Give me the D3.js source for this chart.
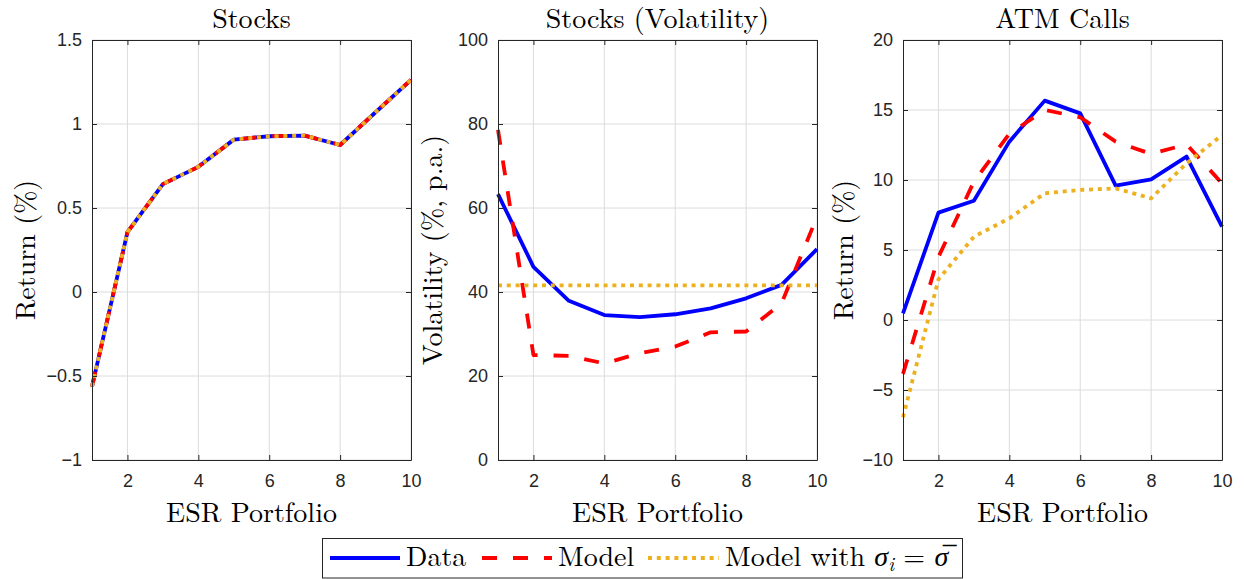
<!DOCTYPE html>
<html><head><meta charset="utf-8">
<script src="https://cdn.jsdelivr.net/npm/d3@7"></script>
<style>body{margin:0;background:#fff}svg{display:block}</style>
</head><body><svg id="c" width="1244" height="579"></svg>
<script>
const portfolios = [1,2,3,4,5,6,7,8,9,10];
const xTicks = [2,4,6,8,10];

const stocksData  = [-0.563,0.356,0.642,0.745,0.907,0.927,0.931,0.875,1.07,1.263];
const stocksModel = [-0.563,0.356,0.642,0.745,0.907,0.927,0.931,0.875,1.07,1.263];
const stocksModelSig = [-0.563,0.356,0.642,0.745,0.907,0.927,0.931,0.875,1.07,1.263];
const stocksTicks = [-1,-0.5,0,0.5,1,1.5];

const volData  = [63.3,46.0,37.9,34.5,34.0,34.7,36.1,38.5,41.7,50.2];
const volModel = [78.6,25.0,24.8,23.0,25.4,27.0,30.4,30.6,37.3,57.9];
const volModelSig = [41.6,41.6,41.6,41.6,41.6,41.6,41.6,41.6,41.6,41.6];
const volTicks = [0,20,40,60,80,100];

const callData  = [0.48,7.67,8.52,12.74,15.67,14.76,9.60,10.05,11.67,6.67];
const callModel = [-3.85,4.5,9.88,13.3,15.0,14.48,12.74,11.86,12.55,9.76];
const callModelSig = [-6.95,2.9,5.95,7.26,9.05,9.29,9.40,8.69,11.19,13.21];
const callTicks = [-10,-5,0,5,10,15,20];

const titles = ["Stocks","Stocks (Volatility)","ATM Calls"];
const yLabels = ["Return (%)","Volatility (%, p.a.)","Return (%)"];
const xLabel = "ESR Portfolio";
const legendLabels = ["Data","Model"];

const panels = [
  {title:titles[0], ylab:yLabels[0], ticks:stocksTicks, series:[stocksData,stocksModel,stocksModelSig], left:92, ylabOff:67},
  {title:titles[1], ylab:yLabels[1], ticks:volTicks, series:[volData,volModel,volModelSig], left:498, ylabOff:66},
  {title:titles[2], ylab:yLabels[2], ticks:callTicks, series:[callData,callModel,callModelSig], left:903, ylabOff:60}
];

const PW = 319, PTOP = 40, PH = 420;
const serif = '"Latin Modern Roman", "Liberation Serif", serif';
const sans = '"Liberation Sans", Arial, sans-serif';
const axisCol = "#262626";
const styles = [
  {color:"#0000ff", dash:null, width:3.8},
  {color:"#ff0000", dash:"15,16", width:3.8},
  {color:"#edb120", dash:"4,4.8", width:3.8}
];

const svg = d3.select("#c");
const serifText = sel => sel.style("font-family", serif).style("font-size","28px").attr("fill","#000");

panels.forEach(p => {
  const g = svg.append("g").attr("transform", `translate(${p.left},${PTOP})`);
  const x = d3.scaleLinear().domain([1,10]).range([0,PW]);
  const y = d3.scaleLinear().domain(d3.extent(p.ticks)).range([PH,0]);

  g.append("g").selectAll("line").data(xTicks).join("line")
    .attr("x1", d=>x(d)).attr("x2", d=>x(d)).attr("y1",0).attr("y2",PH)
    .attr("stroke","#dcdcdc").attr("stroke-width",1);
  g.append("g").selectAll("line").data(p.ticks).join("line")
    .attr("x1",0).attr("x2",PW).attr("y1", d=>y(d)).attr("y2", d=>y(d))
    .attr("stroke","#dcdcdc").attr("stroke-width",1);

  const line = d3.line().x((d,i)=>x(portfolios[i])).y(d=>y(d));
  p.series.forEach((s,i) => {
    g.append("path").datum(s).attr("d", line)
      .attr("fill","none").attr("stroke", styles[i].color)
      .attr("stroke-width", styles[i].width)
      .attr("stroke-dasharray", styles[i].dash)
      .attr("stroke-linejoin","round");
  });

  const ax = (gen, tr) => {
    const a = g.append("g").attr("transform", tr).call(gen);
    a.select(".domain").attr("stroke", axisCol);
    a.selectAll(".tick line").attr("stroke", axisCol);
    a.selectAll("text").attr("fill", axisCol).style("font-family", sans).style("font-size", "18px");
    return a;
  };
  ax(d3.axisBottom(x).tickValues(xTicks).tickSizeInner(-5).tickSizeOuter(0).tickPadding(14), `translate(0,${PH})`);
  ax(d3.axisTop(x).tickValues(xTicks).tickSizeInner(-5).tickSizeOuter(0).tickFormat(""), `translate(0,0)`);
  ax(d3.axisLeft(y).tickValues(p.ticks).tickSizeInner(-5).tickSizeOuter(0).tickPadding(10).tickFormat(d3.format("")), `translate(0,0)`);
  ax(d3.axisRight(y).tickValues(p.ticks).tickSizeInner(-5).tickSizeOuter(0).tickFormat(""), `translate(${PW},0)`);

  g.append("text").attr("x", PW/2).attr("y", -12).attr("text-anchor","middle")
    .call(serifText).text(p.title);
  g.append("text").attr("x", PW/2).attr("y", PH+62).attr("text-anchor","middle")
    .call(serifText).text(xLabel);
  g.append("text").attr("transform", `translate(${-p.ylabOff},${PH/2}) rotate(-90)`)
    .attr("text-anchor","middle").attr("dy","0.35em")
    .call(serifText).text(p.ylab);
});

const lg = svg.append("g");
lg.append("rect").attr("x",322.5).attr("y",538.5).attr("width",640).attr("height",39.5)
  .attr("fill","#fff").attr("stroke",axisCol).attr("stroke-width",1);
const items = [
  {x0:330, x1:400, tx:406},
  {x0:482, x1:552, tx:558},
  {x0:648, x1:719, tx:725}
];
items.forEach((it,i) => {
  lg.append("line").attr("x1",it.x0).attr("x2",it.x1).attr("y1",558).attr("y2",558)
    .attr("stroke",styles[i].color).attr("stroke-width",styles[i].width)
    .attr("stroke-dasharray",styles[i].dash);
  const t = lg.append("text").attr("x",it.tx).attr("y",566).call(serifText);
  if (i < 2) t.text(legendLabels[i]);
  else {
    t.append("tspan").text("Model with ");
    t.append("tspan").style("font-style","italic").text("σ");
    t.append("tspan").style("font-style","italic").style("font-size","19px").attr("dy",5).text("i");
    t.append("tspan").attr("dy",-5).text(" = ");
    t.append("tspan").style("font-style","italic").text("σ\u0305");
  }
});
</script></body></html>
